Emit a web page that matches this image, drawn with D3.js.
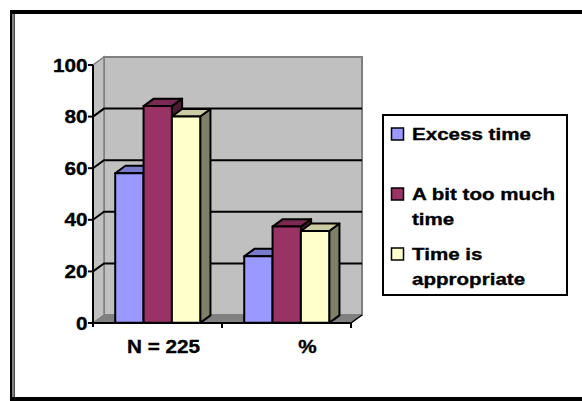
<!DOCTYPE html>
<html>
<head>
<meta charset="utf-8">
<script src="https://cdn.jsdelivr.net/npm/d3@7"></script>
<style>
  html, body { margin: 0; padding: 0; background: #fff; }
  svg { display: block; }
  text { font-family: "Liberation Sans", Arial, sans-serif; font-weight: bold; fill: #000; stroke: #000; stroke-width: 0.35px; }
</style>
</head>
<body>
<svg id="chart" width="582" height="401"></svg>
<script>
// Chart data
const categories = ["N = 225", "%"];
const seriesNames = ["Excess time", "A bit too much time", "Time is appropriate"];
const excessTime = [58, 25.8];
const bitTooMuch = [84, 37.3];
const appropriate = [80, 35.6];
const yTicks = [0, 20, 40, 60, 80, 100];
const legendLines = [["Excess time"], ["A bit too much", "time"], ["Time is", "appropriate"]];

const seriesValues = [excessTime, bitTooMuch, appropriate];
const frontColors = ["#9999ff", "#993366", "#ffffcc"];

const svg = d3.select("#chart");

// Outer frame (double rule on the left, heavy rules elsewhere)
const frame = svg.append("g");
frame.append("rect").attr("x", 10).attr("y", 10).attr("width", 600).attr("height", 4).attr("fill", "#000");
frame.append("rect").attr("x", 10).attr("y", 397).attr("width", 600).attr("height", 4).attr("fill", "#000");
frame.append("rect").attr("x", 10).attr("y", 10).attr("width", 2.5).attr("height", 390).attr("fill", "#000");
frame.append("rect").attr("x", 13.5).attr("y", 14).attr("width", 1.2).attr("height", 384).attr("fill", "#000");

// Scales
const x = d3.scaleBand().domain(categories).range([93, 351]);
const xs = d3.scaleBand().domain(seriesNames).range([22, 107]);
const y = d3.scaleLinear().domain([0, 100]).range([323, 65]);
const labelX = d3.scalePoint().domain(categories).range([163.5, 307.5]);

// Depth projection of the 3-D box
const DX = 11, DY = -8;
const xMin = x.range()[0], xMax = x.range()[1];
const pt = (px, py, z) => [px + z * DX, py + z * DY];
const line = d3.line();

const plot = svg.append("g");

// Back wall
const [bwx0, bwy0] = pt(xMin, y(100), 1);
const [bwx1, bwy1] = pt(xMax, y(0), 1);
plot.append("rect")
  .attr("x", bwx0).attr("y", bwy0)
  .attr("width", bwx1 - bwx0).attr("height", bwy1 - bwy0)
  .attr("fill", "#c0c0c0").attr("stroke", "#808080").attr("stroke-width", 2);

// Side wall
plot.append("path")
  .attr("d", line([pt(xMin, y(0), 0), pt(xMin, y(100), 0), pt(xMin, y(100), 1), pt(xMin, y(0), 1)]) + "Z")
  .attr("fill", "#c0c0c0").attr("stroke", "#808080").attr("stroke-width", 1.5);

// Floor
plot.append("path")
  .attr("d", line([pt(xMin, y(0), 0), pt(xMax, y(0), 0), pt(xMax, y(0), 1), pt(xMin, y(0), 1)]) + "Z")
  .attr("fill", "#808080").attr("stroke", "#808080").attr("stroke-width", 1);

// Gridlines across side wall and back wall
yTicks.filter(t => t > 0 && t < 100).forEach(t => {
  plot.append("path")
    .attr("d", line([pt(xMin, y(t), 0), pt(xMin, y(t), 1), pt(xMax, y(t), 1)]))
    .attr("fill", "none").attr("stroke", "#000").attr("stroke-width", 2);
});

// Bars
const z0 = 0.02, z1 = 0.95;
const ddx = (z1 - z0) * DX, ddy = (z1 - z0) * DY;
const shade = (c, k) => { const r = d3.rgb(c); return d3.rgb(r.r * k, r.g * k, r.b * k).toString(); };

categories.forEach((cat, ci) => {
  seriesNames.forEach((s, si) => {
    const v = seriesValues[si][ci];
    const [xl, yt] = pt(x(cat) + xs(s), y(v), z0);
    const [, yb] = pt(0, y(0), z0);
    const xr = xl + xs.bandwidth();
    const g = plot.append("g")
      .attr("stroke", "#000").attr("stroke-width", 2).attr("stroke-linejoin", "round");
    g.append("path")
      .attr("d", line([[xr, yt], [xr + ddx, yt + ddy], [xr + ddx, yb + ddy], [xr, yb]]) + "Z")
      .attr("fill", shade(frontColors[si], 0.5));
    g.append("path")
      .attr("d", line([[xl, yt], [xl + ddx, yt + ddy], [xr + ddx, yt + ddy], [xr, yt]]) + "Z")
      .attr("fill", shade(frontColors[si], 0.8));
    g.append("rect")
      .attr("x", xl).attr("y", yt).attr("width", xr - xl).attr("height", yb - yt)
      .attr("fill", frontColors[si]);
  });
});

// Value axis
const axis = svg.append("g").attr("stroke", "#000").attr("stroke-width", 2);
axis.append("line").attr("x1", xMin).attr("x2", xMin).attr("y1", y(100)).attr("y2", y(0) + 4);
yTicks.forEach(t => {
  axis.append("line").attr("x1", xMin - 5).attr("x2", xMin).attr("y1", y(t)).attr("y2", y(t));
});
// Category axis along the front floor edge
axis.append("line").attr("x1", xMin).attr("x2", xMax).attr("y1", y(0)).attr("y2", y(0));
axis.append("path")
  .attr("d", line([pt(xMax, y(0), 0), pt(xMax, y(0), 1)]))
  .attr("fill", "none").attr("stroke-width", 1.5);
categories.forEach(c => {
  const xe = x(c) + x.bandwidth();
  axis.append("line").attr("x1", xe).attr("x2", xe).attr("y1", y(0)).attr("y2", y(0) + 5);
});

// Tick labels
yTicks.forEach(t => {
  svg.append("text")
    .attr("transform", `translate(87.5,${y(t) + 6.5}) scale(1.15,1)`)
    .attr("text-anchor", "end")
    .style("font-size", "18px")
    .text(t);
});
categories.forEach(c => {
  svg.append("text")
    .attr("transform", `translate(${labelX(c)},353) scale(1.15,1)`)
    .attr("text-anchor", "middle")
    .style("font-size", "18px")
    .text(c);
});

// Legend
const legend = svg.append("g");
legend.append("rect")
  .attr("x", 383).attr("y", 115).attr("width", 184).attr("height", 180)
  .attr("fill", "#fff").attr("stroke", "#000").attr("stroke-width", 2);
seriesNames.forEach((s, i) => {
  const base = 140 + i * 60;
  legend.append("rect")
    .attr("x", 391.5).attr("y", base - 12).attr("width", 12).attr("height", 12)
    .attr("fill", frontColors[i]).attr("stroke", "#000").attr("stroke-width", 1.5);
  legendLines[i].forEach((ln, j) => {
    legend.append("text")
      .attr("transform", `translate(412,${base + j * 25}) scale(1.21,1)`)
      .style("font-size", "17px")
      .text(ln);
  });
});
</script>
</body>
</html>
